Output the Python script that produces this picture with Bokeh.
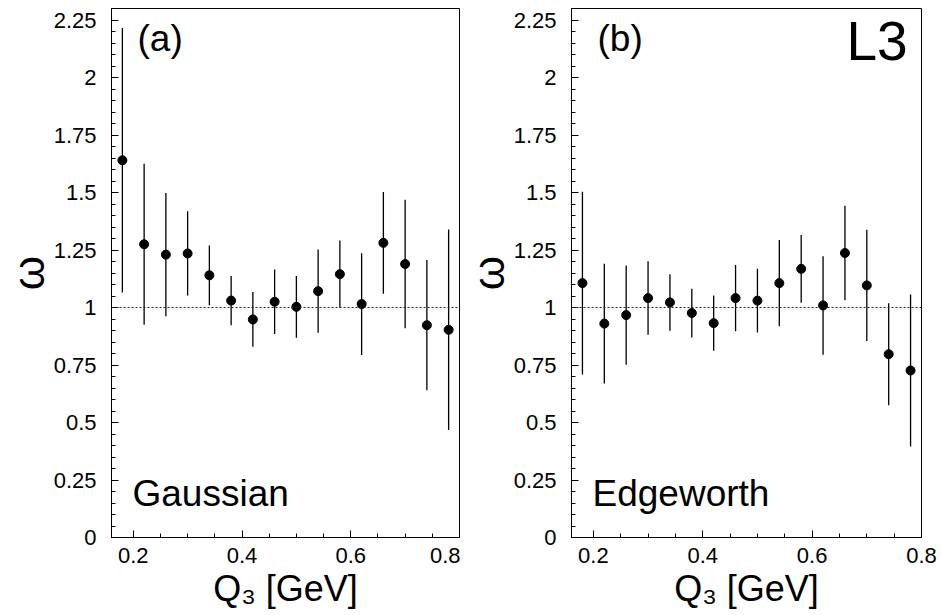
from bokeh.plotting import figure
from bokeh.models import FixedTicker, Span, Label, ColumnDataSource
from bokeh.layouts import row
from bokeh.embed import file_html
from bokeh.resources import INLINE

# ---- data ----
q3 = [0.18, 0.22, 0.26, 0.30, 0.34, 0.38, 0.42, 0.46, 0.50, 0.54, 0.58, 0.62, 0.66, 0.70, 0.74, 0.78]
omega_gauss = [1.64, 1.275, 1.23, 1.235, 1.14, 1.03, 0.948, 1.025, 1.003, 1.071, 1.145, 1.015, 1.281, 1.189, 0.923, 0.903]
err_gauss = [0.575, 0.35, 0.268, 0.183, 0.13, 0.107, 0.119, 0.14, 0.134, 0.181, 0.146, 0.221, 0.221, 0.279, 0.283, 0.436]
omega_edge = [1.106, 0.930, 0.967, 1.041, 1.022, 0.976, 0.932, 1.041, 1.030, 1.106, 1.168, 1.009, 1.237, 1.096, 0.797, 0.726]
err_edge = [0.397, 0.26, 0.216, 0.16, 0.123, 0.106, 0.12, 0.144, 0.139, 0.187, 0.147, 0.214, 0.205, 0.242, 0.222, 0.33]

y_ticks = [0, 0.25, 0.5, 0.75, 1, 1.25, 1.5, 1.75, 2, 2.25]
y_tick_labels = ["0", "0.25", "0.5", "0.75", "1", "1.25", "1.5", "1.75", "2", "2.25"]
y_minor = [round(0.05 * i, 2) for i in range(0, 47)]
x_ticks = [0.2, 0.4, 0.6, 0.8]
x_tick_labels = ["0.2", "0.4", "0.6", "0.8"]
x_minor = [round(0.05 * i, 2) for i in range(3, 17)]

FONT = "Liberation Sans"


def make_panel(omega, err, tag, name, width, border_left, border_right, extra=None):
    p = figure(width=width, height=615, x_range=(0.16, 0.8), y_range=(0, 2.3),
               output_backend="svg", toolbar_location=None,
               min_border_left=border_left, min_border_right=border_right,
               min_border_top=8, min_border_bottom=78)
    p.xgrid.visible = False
    p.ygrid.visible = False
    p.outline_line_color = "black"
    p.outline_line_width = 1
    p.background_fill_color = "white"
    p.border_fill_color = "white"

    # axes
    p.yaxis.ticker = FixedTicker(ticks=y_ticks, minor_ticks=y_minor)
    p.yaxis.major_label_overrides = {t: l for t, l in zip(y_ticks, y_tick_labels)}
    p.xaxis.ticker = FixedTicker(ticks=x_ticks, minor_ticks=x_minor)
    p.xaxis.major_label_overrides = {t: l for t, l in zip(x_ticks, x_tick_labels)}
    for ax in (p.xaxis[0], p.yaxis[0]):
        ax.major_tick_in = 7
        ax.major_tick_out = 0
        ax.minor_tick_in = 4
        ax.minor_tick_out = 0
        ax.axis_line_color = "black"
        ax.major_tick_line_color = "black"
        ax.minor_tick_line_color = "black"
        ax.major_label_text_font = FONT
        ax.major_label_text_font_size = "22px"
        ax.major_label_text_color = "black"
        ax.axis_label_text_font = FONT
        ax.axis_label_text_font_style = "normal"
        ax.axis_label_text_color = "black"
    p.yaxis.major_label_standoff = 15
    p.xaxis.major_label_standoff = 10
    p.yaxis.axis_label = "ω"
    p.yaxis.axis_label_text_font_size = "44px"
    p.yaxis.axis_label_standoff = -2
    p.xaxis.axis_label = "Q₃ [GeV]"
    p.xaxis.axis_label_text_font_size = "36px"
    p.xaxis.axis_label_standoff = 2

    # reference line
    p.add_layout(Span(location=1, dimension="width", line_color="#222222",
                      line_width=1, line_dash="2 2"))

    lo = [o - e for o, e in zip(omega, err)]
    hi = [o + e for o, e in zip(omega, err)]
    src = ColumnDataSource(dict(x=q3, y=omega, lo=lo, hi=hi))
    p.segment(x0="x", y0="lo", x1="x", y1="hi", source=src, line_color="black", line_width=1.3)
    p.scatter(x="x", y="y", source=src, size=9, marker="circle",
              fill_color="black", line_color="black")

    p.add_layout(Label(x=26, y=479, x_units="screen", y_units="screen", text=tag,
                       text_font=FONT, text_font_size="37px", text_color="black"))
    p.add_layout(Label(x=21, y=24, x_units="screen", y_units="screen", text=name,
                       text_font=FONT, text_font_size="37px", text_color="black"))
    if extra:
        p.add_layout(Label(x=275, y=466, x_units="screen", y_units="screen", text=extra,
                           text_font=FONT, text_font_size="55px", text_color="black"))
    return p


p1 = make_panel(omega_gauss, err_gauss, "(a)", "Gaussian", 460, 110, 1)
p2 = make_panel(omega_edge, err_edge, "(b)", "Edgeworth", 481, 111, 20, extra="L3")

layout = row(p1, p2)
open("out.html", "w").write(file_html(layout, INLINE))
